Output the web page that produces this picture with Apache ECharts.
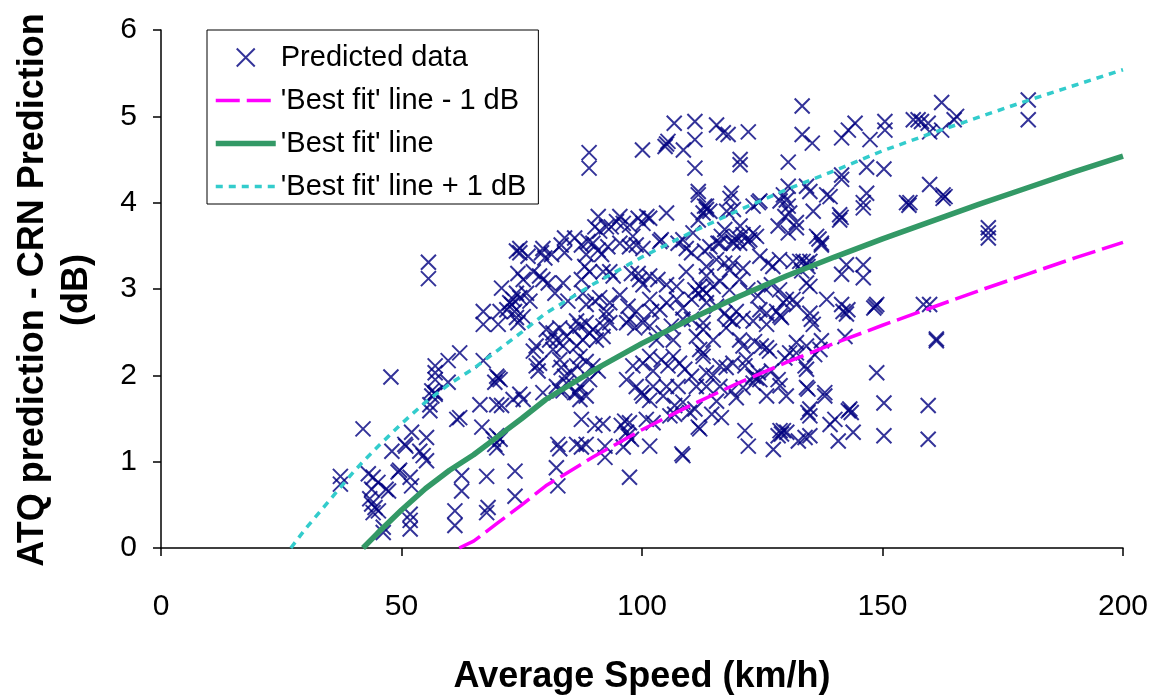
<!DOCTYPE html>
<html>
<head>
<meta charset="utf-8">
<script src="https://cdn.jsdelivr.net/npm/echarts@6/dist/echarts.min.js"></script>
<style>
html,body{margin:0;padding:0;background:#fff;}
#chart{width:1157px;height:698px;}
</style>
</head>
<body>
<div id="chart"></div>
<script>
// ---- data ----
const xTicks = [0, 50, 100, 150, 200];
const yTicks = [0, 1, 2, 3, 4, 5, 6];
const seriesNames = ["Predicted data", "'Best fit' line - 1 dB", "'Best fit' line", "'Best fit' line + 1 dB"];

// Predicted data: [average speed (km/h), ATQ - CRN (dB)]
const predicted = [
[42.0,1.38],[37.3,0.83],[37.3,0.74],[43.1,0.86],[44.1,0.82],[45.1,0.76],[43.8,0.68],[43.4,0.57],[43.8,0.51],[44.5,0.47],
[44.1,0.41],[45.2,0.43],[47.3,0.66],[46.8,0.68],[46.2,0.24],[46.2,0.18],[49.3,0.88],[49.6,0.90],[51.8,0.82],[52.1,0.72],
[51.8,0.39],[51.8,0.32],[51.8,0.22],[48.0,1.12],[50.7,1.20],[50.9,1.18],[52.1,1.34],[55.2,1.28],[53.8,1.12],[54.5,1.07],
[55.2,1.01],[55.9,1.66],[56.3,1.76],[57.0,1.80],[55.9,1.59],[62.1,1.51],[61.5,1.49],[66.3,1.66],[69.8,1.66],[70.8,1.65],
[66.7,1.40],[69.1,1.26],[69.8,1.30],[70.5,1.26],[69.4,1.20],[69.8,1.16],[73.6,0.89],[73.6,0.60],[62.5,0.84],[62.5,0.66],
[67.7,0.83],[61.1,0.43],[61.1,0.26],[68.0,0.47],[67.7,0.41],
[55.6,3.31],[55.6,3.12],[47.8,1.98],[62.1,2.26],[59.7,2.17],[57.0,2.11],[57.0,2.03],[59.7,1.92],[57.0,1.95],[56.3,1.82],
[57.0,1.78],[67.0,2.17],[69.8,1.99],[70.5,1.95],[69.4,1.92],[70.1,1.97],[70.8,3.01],[67.0,2.74],[67.0,2.59],[70.1,2.59],
[70.5,2.74],[71.9,2.76],[72.5,2.84],[73.2,2.88],[73.9,3.44],[73.2,1.72],[72.9,2.82],[73.9,2.67],[74.2,2.61],
[89.0,4.58],[89.0,4.40],[100.1,4.61],[104.8,4.65],[105.4,4.71],[105.1,4.68],[106.7,4.92],[111.0,4.94],[111.0,4.73],[108.6,4.61],
[111.0,4.40],[111.7,4.13],[111.7,4.09],[113.0,3.96],[105.1,3.88],[90.9,3.84],[95.4,3.84],[99.2,3.82],[101.0,3.84],[74.6,3.47],
[79.4,3.47],[83.9,3.59],[86.0,3.59],[88.8,3.55],[90.2,3.72],[91.2,3.67],[92.6,3.72],[93.6,3.72],[94.7,3.78],[96.1,3.76],
[97.4,3.74],[98.1,3.61],[100.2,3.76],[101.6,3.82],[104.0,3.57],[108.5,3.57],[110.6,3.65],[111.7,3.80],[112.7,3.88],[113.4,3.92],
[133.3,5.12],[115.5,4.90],[116.9,4.81],[117.9,4.79],[122.1,4.82],[133.3,4.79],[135.4,4.69],[141.5,4.75],[142.9,4.84],[144.3,4.92],
[147.4,4.73],[150.5,4.94],[150.5,4.84],[120.4,4.50],[120.4,4.44],[130.4,4.47],[141.5,4.32],[141.5,4.27],[146.7,4.41],[150.3,4.39],
[130.4,4.19],[134.2,4.19],[134.9,4.13],[138.4,4.09],[139.1,4.07],[146.7,4.11],[146.0,4.00],[146.0,3.94],[155.0,4.00],[118.6,4.11],
[118.3,4.05],[113.4,3.96],[114.1,3.90],[117.6,3.90],[119.0,3.92],[124.2,4.00],[124.5,4.02],[123.1,3.96],[129.4,4.09],[130.0,4.03],
[130.4,3.96],[128.7,4.02],[130.7,3.88],[129.7,3.84],[135.6,3.90],[141.1,3.86],[141.1,3.80],[141.4,3.83],[128.3,3.73],[132.1,3.77],
[132.1,3.71],[130.4,3.65],[136.3,3.61],[137.3,3.53],[136.8,3.58],[120.4,3.73],[121.0,3.63],[123.1,3.65],[117.2,3.69],[116.5,3.61],
[119.6,3.61],[122.4,3.57],[123.8,3.61],[119.0,3.53],[115.8,3.53],
[162.3,5.16],[156.4,4.96],[157.4,4.96],[158.1,4.94],[159.5,4.92],[159.8,4.82],[162.3,4.84],[165.4,5.00],[164.9,4.96],[180.3,5.19],
[180.3,4.96],[159.8,4.21],[162.6,4.09],[162.6,4.05],[163.0,4.07],[155.7,4.00],[155.5,3.97],[172.0,3.71],[172.0,3.59],[172.0,3.65],
[158.5,2.82],[159.8,2.82],[161.2,2.42],[161.2,2.40],[159.5,1.65],[159.5,1.26],
[150.3,1.68],[150.3,1.30],[143.9,1.34],[140.8,1.24],[143.2,1.61],[143.5,1.57],[142.9,1.59],[140.1,1.49],[139.1,1.43],[134.9,1.61],
[134.9,1.53],[134.5,1.57],[138.0,1.76],[134.9,1.30],[133.9,1.28],[132.5,1.24],[128.7,1.36],[129.4,1.36],[129.0,1.32],[128.3,1.30],
[130.1,1.34],[127.3,1.14],[122.1,1.18],[121.4,1.36],[125.9,1.76],[130.0,1.76],[134.5,1.84],[119.6,1.74],[115.5,1.70],[114.5,1.55],
[116.5,1.51],[112.0,1.38],
[142.5,3.28],[146.0,3.28],[141.5,3.17],[146.0,3.13],[148.8,2.82],[148.5,2.80],[148.2,2.78],[141.5,2.82],[141.8,2.74],[142.8,2.76],
[142.5,2.71],[142.2,2.45],[137.3,3.51],[133.5,3.32],[134.2,3.30],[132.8,3.32],[134.9,3.32],[134.5,3.26],[131.4,3.32],[133.2,3.21],
[134.2,3.07],[134.9,3.03],[131.4,2.88],[132.1,2.82],[129.4,2.84],[130.0,2.88],[128.0,2.74],[128.7,2.69],[129.0,2.67],[134.9,2.72],
[135.2,2.65],[135.6,2.59],[138.4,2.88],[132.1,2.38],[134.2,2.34],[132.1,2.26],[135.9,2.24],[137.0,2.30],[137.3,2.40],[133.9,2.11],
[134.2,2.07],[130.7,2.26],[129.7,2.20],[134.2,1.86],[138.0,1.80],[148.8,2.03],[125.9,2.32],[124.8,2.34],[126.5,2.28],[123.8,1.97],
[124.2,2.03],[123.1,1.99],[124.5,1.95],[121.7,2.18],[121.4,2.11],[128.3,1.95],[128.7,1.88],[126.9,2.05],[116.2,2.11],[114.8,2.00],
[117.5,2.09],[118.9,2.14],[113.4,1.87],[116.2,1.87],[118.6,1.82],[121.0,1.86],[123.1,1.91],
[114.1,3.49],[116.2,3.53],[118.9,3.55],[120.3,3.53],[122.0,3.55],[113.4,3.26],[115.5,3.34],[117.2,3.30],[118.9,3.30],[118.2,3.22],
[121.0,3.24],[124.5,3.38],[126.2,3.30],[127.2,3.26],[128.6,3.34],[113.4,3.15],[112.7,2.99],[114.8,3.03],[116.2,3.09],[118.2,2.99],
[120.3,3.11],[122.0,2.99],[124.1,2.92],[125.5,3.01],[126.9,3.05],[128.6,2.99],[113.4,2.84],[115.5,2.80],[117.2,2.72],[118.9,2.63],
[117.5,2.55],[118.2,2.65],[119.6,2.74],[121.0,2.66],[123.1,2.63],[124.5,2.76],[125.9,2.72],[125.9,2.59],[112.7,2.53],[114.8,2.41],
[120.3,2.41],[121.0,2.34],[123.4,2.39],[112.0,2.30],[112.7,2.22],
[74.6,3.42],[76.3,3.38],[79.1,3.42],[79.8,3.36],[81.2,3.40],[83.2,3.51],[83.9,3.42],[87.4,3.51],[88.4,3.40],[89.8,3.53],
[90.9,3.45],[91.6,3.40],[92.9,3.49],[95.4,3.53],[97.4,3.49],[98.8,3.51],[100.2,3.47],[103.7,3.55],[107.5,3.53],[109.2,3.47],
[110.3,3.42],[113.0,3.44],
[74.2,3.18],[75.3,3.11],[77.4,3.20],[78.7,3.15],[79.4,3.11],[80.5,3.07],[83.6,3.07],[88.1,3.26],[89.1,3.20],[87.4,3.11],
[91.9,3.20],[93.3,3.20],[94.0,3.15],[97.8,3.18],[99.2,3.18],[99.5,3.11],[100.2,3.05],[101.6,3.15],[103.3,3.11],[105.1,3.05],
[107.2,3.03],[109.2,3.20],[111.0,2.99],[111.7,2.95],[112.0,3.03],
[73.9,2.95],[74.6,2.90],[76.0,2.95],[76.7,2.86],[75.3,2.68],[73.5,2.74],[81.9,2.95],[84.6,2.86],[87.7,2.95],[88.4,2.82],
[90.2,2.86],[91.2,2.90],[92.6,2.74],[93.3,2.84],[95.4,2.93],[97.1,2.80],[98.8,2.74],[101.6,2.88],[102.0,2.74],[103.7,2.76],
[105.1,2.84],[107.2,2.88],[108.5,2.78],[110.3,2.88],[113.4,2.95],[112.7,2.61],[111.3,2.45],
[80.1,2.53],[81.5,2.49],[82.9,2.55],[80.8,2.41],[82.2,2.41],[84.3,2.45],[85.7,2.53],[86.4,2.63],[87.1,2.57],[88.4,2.61],
[89.1,2.49],[89.8,2.53],[90.5,2.41],[91.9,2.57],[92.6,2.68],[93.3,2.61],[91.9,2.45],[87.7,2.41],[86.4,2.34],[83.6,2.34],
[81.5,2.30],[96.8,2.61],[97.4,2.65],[98.5,2.55],[100.2,2.61],[101.6,2.57],[103.0,2.41],[104.4,2.49],[106.1,2.57],[108.5,2.65],
[110.3,2.65],[106.5,2.41],[78.0,2.34],[77.4,2.28],
[78.7,2.14],[78.4,2.05],[78.0,2.11],[82.9,2.18],[83.2,2.09],[83.9,1.99],[84.3,1.91],[85.3,2.03],[86.4,2.11],[87.1,2.22],
[88.4,2.16],[89.8,2.11],[90.9,2.05],[89.1,1.95],[87.1,1.87],[86.0,1.80],[83.6,1.82],[82.2,1.87],[74.6,1.78],[96.8,1.95],
[98.1,2.11],[100.2,2.14],[101.6,2.22],[102.3,2.05],[104.0,2.18],[105.4,2.11],[106.5,2.22],[107.8,2.14],[108.9,2.07],[110.3,1.99],
[111.3,1.87],[107.5,1.87],[105.1,1.87],[102.3,1.87],[98.8,1.87],[100.2,1.76],[104.4,1.76],[112.7,2.26],[113.4,2.03],
[75.3,1.72],[79.4,1.80],[82.9,1.82],[86.4,1.80],[87.1,1.72],[88.4,1.76],[87.4,1.49],[90.2,1.42],[91.9,1.44],[82.5,1.20],
[82.9,1.15],[86.4,1.20],[87.4,1.17],[88.4,1.20],[92.3,1.18],[92.3,1.05],[82.2,0.93],[82.5,0.72],[95.7,1.42],[96.4,1.47],
[97.4,1.45],[96.8,1.34],[97.1,1.30],[97.8,1.26],[96.1,1.17],[97.4,0.82],[101.6,1.18],[100.9,1.49],[101.6,1.71],[99.9,1.80],
[102.3,1.45],[105.8,1.53],[106.8,1.65],[106.8,1.55],[108.5,1.07],[108.3,1.09],[109.9,1.57],[111.7,1.40],[111.0,1.61],[108.5,1.69]
];

// 'Best fit' line
const fitSpeed = [42, 45, 50, 55, 60, 65, 70, 75, 80, 90, 100, 110, 120, 130, 140, 150, 160, 170, 180, 190, 200];
const fitDb    = [0, 0.17, 0.44, 0.69, 0.90, 1.08, 1.29, 1.50, 1.72, 2.06, 2.37, 2.65, 2.91, 3.15, 3.37, 3.58, 3.78, 3.98, 4.17, 4.36, 4.54];
// 'Best fit' line - 1 dB
const lowSpeed = [62, 65, 70, 75, 80, 90, 100, 110, 120, 130, 140, 150, 160, 170, 180, 190, 200];
const lowDb    = [0, 0.08, 0.29, 0.50, 0.72, 1.06, 1.37, 1.65, 1.91, 2.15, 2.37, 2.58, 2.78, 2.98, 3.17, 3.36, 3.54];
// 'Best fit' line + 1 dB
const upSpeed  = [27, 30, 35, 40, 42, 45, 50, 55, 60, 65, 70, 75, 80, 90, 100, 110, 120, 130, 140, 150, 160, 170, 180, 190, 200];
const upDb     = [0, 0.22, 0.55, 0.88, 1.00, 1.17, 1.44, 1.69, 1.90, 2.08, 2.29, 2.50, 2.72, 3.06, 3.37, 3.65, 3.91, 4.15, 4.37, 4.60, 4.80, 4.99, 5.18, 5.36, 5.54];

// ---- chart ----
const FONT = "'Liberation Sans', Arial, sans-serif";
const zip = (a, b) => a.map((v, i) => [v, b[i]]);
const chart = echarts.init(document.getElementById('chart'), null, {renderer: 'canvas'});
const crossPath = 'path://M0,0L10,10M0,10L10,0';
const hiddenSymbol = {opacity: 0};
const lowStyle = {color: '#ff00ff', width: 3.5, type: [24, 7]};
const fitStyle = {color: '#339966', width: 5.5, type: 'solid'};
const upStyle  = {color: '#33cccc', width: 3.5, type: [7, 6]};

chart.setOption({
  animation: false,
  backgroundColor: '#ffffff',
  grid: {left: 161, right: 34, top: 30, bottom: 150, containLabel: false, outerBoundsMode: 'none'},
  xAxis: {
    type: 'value', min: xTicks[0], max: xTicks[xTicks.length - 1], interval: 50,
    axisLine: {show: true, onZero: false, lineStyle: {color: '#000', width: 1.5}},
    axisTick: {show: true, inside: false, length: 8, lineStyle: {color: '#000', width: 1.5}},
    axisLabel: {color: '#000', fontSize: 30, fontFamily: FONT, margin: 44},
    splitLine: {show: false}
  },
  yAxis: {
    type: 'value', min: yTicks[0], max: yTicks[yTicks.length - 1], interval: 1,
    axisLine: {show: true, onZero: false, lineStyle: {color: '#000', width: 1.5}},
    axisTick: {show: true, inside: false, length: 8, lineStyle: {color: '#000', width: 1.5}},
    axisLabel: {color: '#000', fontSize: 30, fontFamily: FONT, margin: 24},
    splitLine: {show: false}
  },
  legend: {
    orient: 'vertical', left: 207, top: 30,
    data: [
      {name: seriesNames[0]},
      {name: seriesNames[1], itemStyle: hiddenSymbol, lineStyle: lowStyle},
      {name: seriesNames[2], itemStyle: hiddenSymbol, lineStyle: fitStyle},
      {name: seriesNames[3], itemStyle: hiddenSymbol, lineStyle: upStyle}
    ],
    backgroundColor: '#fff', borderColor: '#000', borderWidth: 1,
    padding: [13, 12, 3, 6], itemGap: 14, itemWidth: 60, itemHeight: 18,
    textStyle: {color: '#000', fontSize: 29, fontFamily: FONT},
    symbolKeepAspect: true
  },
  series: [
    {
      name: seriesNames[0], type: 'scatter', data: predicted,
      symbol: crossPath, symbolSize: 15,
      itemStyle: {color: '#000080', borderColor: '#000080', borderWidth: 2},
      z: 2
    },
    {
      name: seriesNames[1], type: 'line', data: zip(lowSpeed, lowDb),
      symbol: 'none', smooth: false, lineStyle: lowStyle,
      itemStyle: {color: '#ff00ff'}, z: 3
    },
    {
      name: seriesNames[2], type: 'line', data: zip(fitSpeed, fitDb),
      symbol: 'none', smooth: false, lineStyle: fitStyle,
      itemStyle: {color: '#339966'}, z: 3
    },
    {
      name: seriesNames[3], type: 'line', data: zip(upSpeed, upDb),
      symbol: 'none', smooth: false, lineStyle: upStyle,
      itemStyle: {color: '#33cccc'}, z: 3
    }
  ],
  graphic: [
    {
      type: 'text', x: 642, y: 677,
      style: {text: 'Average Speed (km/h)', font: 'bold 36px ' + FONT, fill: '#000', align: 'center', verticalAlign: 'middle'}
    },
    {
      type: 'text', x: 55, y: 290, rotation: Math.PI / 2,
      style: {text: 'ATQ prediction - CRN Prediction\n(dB)', font: 'bold 36px ' + FONT, fill: '#000', align: 'center', verticalAlign: 'middle', lineHeight: 44}
    }
  ]
});
</script>
</body>
</html>
